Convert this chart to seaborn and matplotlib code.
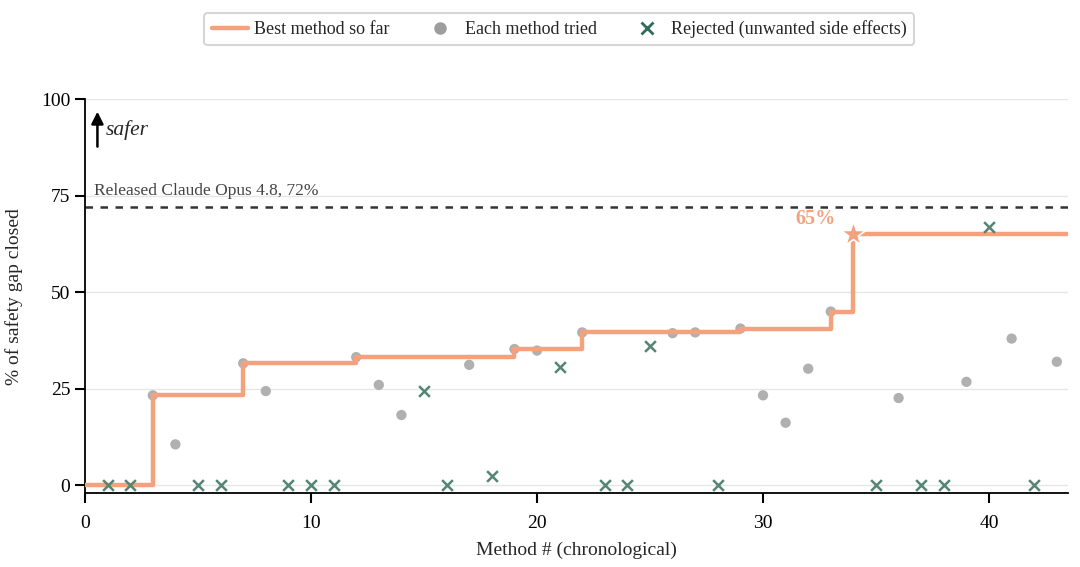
import numpy as np
import pandas as pd
import matplotlib
matplotlib.use("Agg")
import matplotlib.pyplot as plt
import seaborn as sns
from matplotlib.lines import Line2D

# ---- data ----
methods = list(range(1, 44))
scores = [0, 0, 23.3, 10.6, 0, 0, 31.6, 24.4, 0, 0,
          0, 33.2, 26.0, 18.2, 24.4, 0, 31.2, 2.3, 35.3, 34.9,
          30.6, 39.6, 0, 0, 36.1, 39.4, 39.6, 0, 40.6, 23.3,
          16.2, 30.2, 45.0, 65.0, 0, 22.6, 0, 0, 26.8, 67.0,
          38.0, 0, 32.0]
rejected = [1, 1, 0, 0, 1, 1, 0, 0, 1, 1,
            1, 0, 0, 0, 1, 1, 0, 1, 0, 0,
            1, 0, 1, 1, 1, 0, 0, 1, 0, 0,
            0, 0, 0, 0, 1, 0, 1, 1, 0, 1,
            0, 1, 0]
baseline_method = 0
baseline_score = 0.0
released_score = 72
released_label = "Released Claude Opus 4.8, 72%"
best_label = "65%"
yticks = [0, 25, 50, 75, 100]
xticks = [0, 10, 20, 30, 40]

ORANGE = "#F4A27E"
GRAY = "#B0B0B0"
GREEN = "#558573"
GREEN_DARK = "#2E6B58"

df = pd.DataFrame({"method": methods, "score": scores,
                   "rejected": np.array(rejected, dtype=bool)})
acc = df[~df.rejected]
rej = df[df.rejected]

# best-so-far among accepted methods
best_x = [baseline_method] + acc["method"].tolist()
best_y = np.maximum.accumulate([baseline_score] + acc["score"].tolist())
best_idx = int(np.argmax(acc["score"].values))
best_pt = acc.iloc[best_idx]

sns.set_theme(style="ticks")
plt.rcParams["font.family"] = ["Liberation Serif", "DejaVu Serif"]

fig = plt.figure(figsize=(10.8, 5.67), dpi=100)
ax = fig.add_axes([0.0787, 0.1305, 0.9103, 0.6945])

XMAX = 43.5
ax.set_xlim(0, XMAX)
ax.set_ylim(-2, 100)

for t in yticks:
    ax.axhline(t, color="#E6E6E6", lw=1, zorder=0)

ax.axhline(released_score, color="#333333", lw=1.8, ls=(0, (3, 3)), zorder=1)
ax.text(0.4, released_score + 2.2, released_label, color="#444444",
        fontsize=12.5, ha="left", va="bottom")

sns.scatterplot(data=acc, x="method", y="score", color=GRAY, s=55,
                edgecolor="none", ax=ax, zorder=2, legend=False)
sns.scatterplot(data=rej, x="method", y="score", color=GREEN, marker="x",
                s=60, linewidth=1.8, ax=ax, zorder=4, legend=False,
                clip_on=False)

step_df = pd.DataFrame({"method": best_x + [XMAX],
                        "best": list(best_y) + [best_y[-1]]})
sns.lineplot(data=step_df, x="method", y="best", drawstyle="steps-post",
             color=ORANGE, lw=3.2, ax=ax, zorder=3, legend=False)

ax.scatter([best_pt["method"]], [best_pt["score"]], marker="*", s=360,
           color=ORANGE, edgecolors="white", linewidths=1.2, zorder=5,
           clip_on=False)
ax.text(best_pt["method"] - 0.8, best_pt["score"] + 4, best_label,
        color=ORANGE, fontsize=14.5, fontweight="bold", ha="right",
        va="center")

ax.annotate("", xy=(0.55, 97.5), xytext=(0.55, 87),
            arrowprops=dict(arrowstyle="-|>,head_width=0.3,head_length=0.6",
                            color="black", lw=1.8))
ax.text(0.9, 92, "safer", fontsize=15.5, fontstyle="italic", ha="left",
        va="center")

ax.set_xticks(xticks)
ax.set_yticks(yticks)
ax.tick_params(axis="both", which="major", labelsize=14, length=7,
               width=1.5, direction="out", color="black",
               labelcolor="black", bottom=True, left=True)
ax.tick_params(axis="x", pad=9)
ax.set_xlabel("Method # (chronological)", fontsize=14, labelpad=7)
ax.set_ylabel("% of safety gap closed", fontsize=14, labelpad=13)
for s in ["top", "right"]:
    ax.spines[s].set_visible(False)
for s in ["left", "bottom"]:
    ax.spines[s].set_color("black")
    ax.spines[s].set_linewidth(1.3)

handles = [
    Line2D([0], [0], color=ORANGE, lw=3.2, label="Best method so far"),
    Line2D([0], [0], color="#9E9E9E", marker="o", ls="none", ms=8,
           label="Each method tried"),
    Line2D([0], [0], color=GREEN_DARK, marker="x", ls="none", ms=8, mew=2,
           label="Rejected (unwanted side effects)"),
]
leg = fig.legend(handles=handles, loc="upper center",
                 bbox_to_anchor=(0.518, 0.993), ncol=3, fontsize=13,
                 frameon=True, fancybox=True, edgecolor="#CCCCCC",
                 columnspacing=1.8, handlelength=2.0, handletextpad=0.35,
                 borderpad=0.4)
leg.get_frame().set_linewidth(1.5)

fig.savefig("out.png", dpi=100)
